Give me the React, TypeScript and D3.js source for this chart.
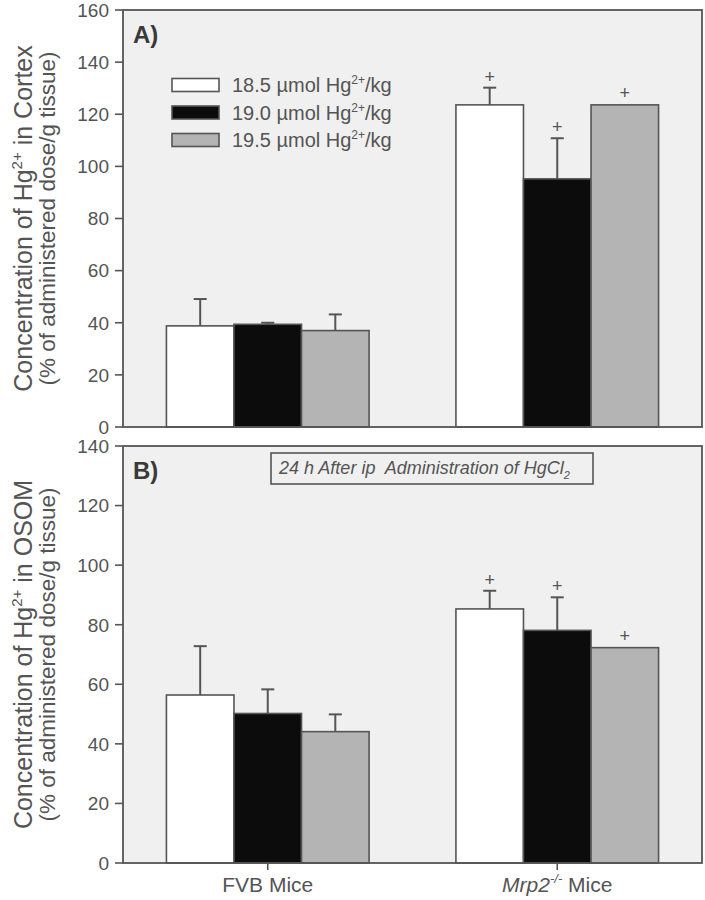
import React from "react";
import * as d3 from "d3";

const groups = ["FVB", "Mrp2"];
const series = ["18.5", "19.0", "19.5"];
const seriesLabels = ["18.5 µmol Hg", "19.0 µmol Hg", "19.5 µmol Hg"];
const seriesFill = ["#ffffff", "#0c0c0c", "#b4b4b4"];

// Panel A: Cortex
const cortexMean = [
  [38.8, 39.4, 37.0],
  [123.6, 95.2, 123.6],
];
const cortexErr = [
  [10.3, 0.6, 6.2],
  [6.6, 15.6, 0.3],
];
const cortexSig = [
  [false, false, false],
  [true, true, true],
];

// Panel B: OSOM
const osomMean = [
  [56.4, 50.2, 44.1],
  [85.3, 78.1, 72.3],
];
const osomErr = [
  [16.4, 8.1, 5.8],
  [6.1, 11.1, 0.3],
];
const osomSig = [
  [false, false, false],
  [true, true, true],
];

const cortexTicks = [0, 20, 40, 60, 80, 100, 120, 140, 160];
const osomTicks = [0, 20, 40, 60, 80, 100, 120, 140];

const INK = "#555555";
const TXT = "#545454";
const BG = "#f0f0f0";
const FONT = "'Liberation Sans', Arial, sans-serif";

const X0 = 123;
const X1 = 702;

const xGroup = d3.scalePoint<string>().domain(groups).range([X0, X1]).padding(0.5);
const groupWidth = xGroup.step() * 0.7;
const xSeries = d3
  .scaleBand<string>()
  .domain(series)
  .range([-groupWidth / 2, groupWidth / 2])
  .padding(0);

type PanelProps = {
  top: number;
  bottom: number;
  max: number;
  ticks: number[];
  mean: number[][];
  err: number[][];
  sig: boolean[][];
  letter: string;
  region: string;
  showX: boolean;
  children?: React.ReactNode;
};

function Panel({ top, bottom, max, ticks, mean, err, sig, letter, region, showX, children }: PanelProps) {
  const y = d3.scaleLinear().domain([0, max]).range([bottom, top]);
  const cy = (top + bottom) / 2;
  return (
    <g>
      <rect x={X0} y={top} width={X1 - X0} height={bottom - top} fill={BG} />
      {groups.map((g, gi) =>
        series.map((s, si) => {
          const bx = (xGroup(g) as number) + (xSeries(s) as number);
          const bw = xSeries.bandwidth();
          const v = mean[gi][si];
          const e = err[gi][si];
          const cx = bx + bw / 2;
          const yTop = y(v);
          const yErr = y(v + e);
          return (
            <g key={g + s}>
              <rect x={bx} y={yTop} width={bw} height={bottom - yTop} fill={seriesFill[si]} stroke={INK} strokeWidth={1.6} />
              {e > 0.5 && (
                <g stroke={INK} strokeWidth={2}>
                  <line x1={cx} x2={cx} y1={yTop} y2={yErr} />
                  <line x1={cx - 6.5} x2={cx + 6.5} y1={yErr} y2={yErr} />
                </g>
              )}
              {sig[gi][si] && (
                <text x={cx} y={yErr - 11} textAnchor="middle" dominantBaseline="central" fontSize={18} fill={TXT} fontFamily={FONT}>
                  +
                </text>
              )}
            </g>
          );
        })
      )}
      <rect x={X0} y={top} width={X1 - X0} height={bottom - top} fill="none" stroke={INK} strokeWidth={1.8} />
      {ticks.map((t) => (
        <g key={t}>
          <line x1={X0 - 8} x2={X0} y1={y(t)} y2={y(t)} stroke={INK} strokeWidth={1.6} />
          <text x={X0 - 14} y={y(t)} dy="0.36em" textAnchor="end" fontSize={19} fill={TXT} fontFamily={FONT}>
            {t}
          </text>
        </g>
      ))}
      {showX &&
        groups.map((g) => (
          <line key={g} x1={xGroup(g) as number} x2={xGroup(g) as number} y1={bottom} y2={bottom + 7} stroke={INK} strokeWidth={1.6} />
        ))}
      <text x={133} y={top + 33} fontSize={24} fontWeight="bold" fill="#3a3a3a" fontFamily={FONT}>
        {letter}
      </text>
      <text transform={`translate(32,${cy}) rotate(-90)`} textAnchor="middle" fontSize={25} fill={TXT} fontFamily={FONT}>
        Concentration of Hg
        <tspan dy={-10} fontSize={15}>2+</tspan>
        <tspan dy={10}> in {region}</tspan>
      </text>
      <text transform={`translate(55,${cy}) rotate(-90)`} textAnchor="middle" fontSize={22.5} fill={TXT} fontFamily={FONT}>
        (% of administered dose/g tissue)
      </text>
      {children}
    </g>
  );
}

export default function App() {
  return (
    <svg width={705} height={900} style={{ position: "absolute", left: 0, top: 0, background: "#ffffff" }}>
      <Panel top={10} bottom={427} max={160} ticks={cortexTicks} mean={cortexMean} err={cortexErr} sig={cortexSig} letter="A)" region="Cortex" showX={false}>
        {series.map((s, si) => {
          const c = 85 + si * 27.5;
          return (
            <g key={s}>
              <rect x={172} y={c - 6.5} width={47} height={13} fill={seriesFill[si]} stroke={INK} strokeWidth={1.6} />
              <text x={232} y={c + 7} fontSize={20} fill={TXT} fontFamily={FONT}>
                {seriesLabels[si]}
                <tspan dy={-8} fontSize={12}>2+</tspan>
                <tspan dy={8}>/kg</tspan>
              </text>
            </g>
          );
        })}
      </Panel>
      <Panel top={446} bottom={863} max={140} ticks={osomTicks} mean={osomMean} err={osomErr} sig={osomSig} letter="B)" region="OSOM" showX={true}>
        <rect x={271} y={453} width={322} height={31} fill="none" stroke={INK} strokeWidth={1.6} />
        <text x={279} y={474} fontSize={18} fontStyle="italic" fill={TXT} fontFamily={FONT}>
          24 h After ip{"\u00a0 "}Administration of HgCl
          <tspan dy={5} fontSize={11}>2</tspan>
        </text>
      </Panel>
      <text x={xGroup("FVB") as number} y={892} textAnchor="middle" fontSize={21} fill={TXT} fontFamily={FONT}>
        FVB Mice
      </text>
      <text x={xGroup("Mrp2") as number} y={892} textAnchor="middle" fontSize={21} fill={TXT} fontFamily={FONT}>
        <tspan fontStyle="italic">Mrp2</tspan>
        <tspan dy={-9} fontSize={13} fontStyle="italic">-/-</tspan>
        <tspan dy={9}> Mice</tspan>
      </text>
    </svg>
  );
}
